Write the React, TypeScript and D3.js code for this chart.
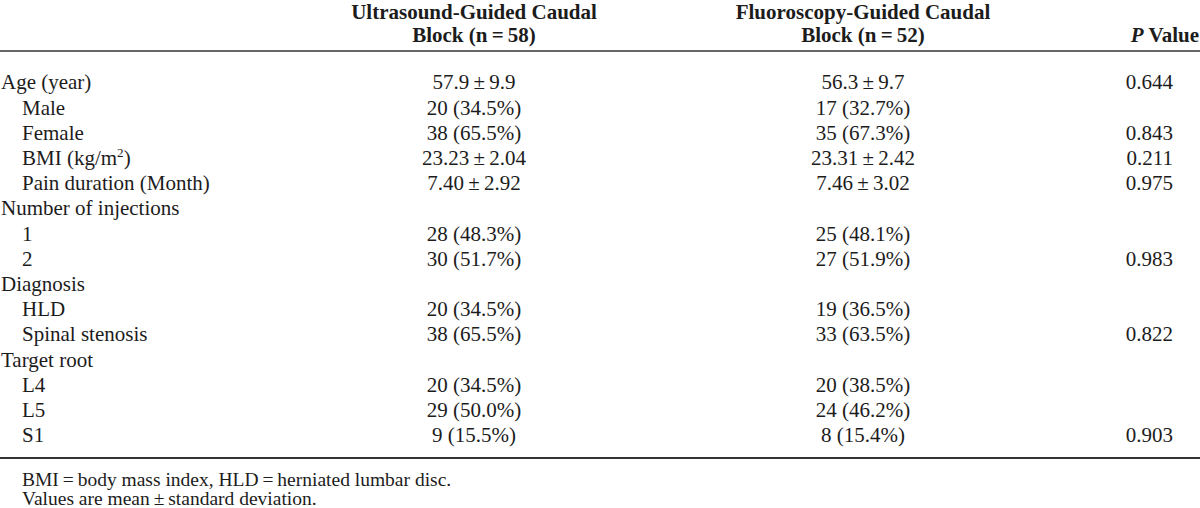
import React from 'react';
import * as d3 from 'd3';

// Table content
const rowLabels = [
  'Age (year)', 'Male', 'Female', 'BMI', 'Pain duration (Month)',
  'Number of injections', '1', '2', 'Diagnosis', 'HLD', 'Spinal stenosis',
  'Target root', 'L4', 'L5', 'S1',
];
const rowIndent = [0, 1, 1, 1, 1, 0, 1, 1, 0, 1, 1, 0, 1, 1, 1];
const usValues = [
  '57.9\u2009±\u20099.9', '20 (34.5%)', '38 (65.5%)', '23.23\u2009±\u20092.04', '7.40\u2009±\u20092.92',
  '', '28 (48.3%)', '30 (51.7%)', '', '20 (34.5%)', '38 (65.5%)',
  '', '20 (34.5%)', '29 (50.0%)', '9 (15.5%)',
];
const flValues = [
  '56.3\u2009±\u20099.7', '17 (32.7%)', '35 (67.3%)', '23.31\u2009±\u20092.42', '7.46\u2009±\u20093.02',
  '', '25 (48.1%)', '27 (51.9%)', '', '19 (36.5%)', '33 (63.5%)',
  '', '20 (38.5%)', '24 (46.2%)', '8 (15.4%)',
];
const pValues = [
  '0.644', '', '0.843', '0.211', '0.975',
  '', '', '0.983', '', '', '0.822',
  '', '', '', '0.903',
];
const headerUS = ['Ultrasound-Guided Caudal', 'Block (n\u2009=\u200958)'];
const headerFL = ['Fluoroscopy-Guided Caudal', 'Block (n\u2009=\u200952)'];
const footnotes = [
  'BMI\u2009=\u2009body mass index, HLD\u2009=\u2009herniated lumbar disc.',
  'Values are mean\u2009±\u2009standard deviation.',
];

const width = 1200;
const height = 508;
const font = '"Liberation Serif", "Times New Roman", serif';
const ink = '#1c1c1c';
const fontSize = 21;

const App: React.FC = () => {
  // row index -> vertical centre of the text
  const y = d3.scaleLinear().domain([0, rowLabels.length - 1]).range([82, 435]);
  const headerY = d3.scaleLinear().domain([0, 1]).range([12, 35]);
  const footY = d3.scaleLinear().domain([0, 1]).range([479, 498]);

  const colUS = 474;
  const colFL = 863;
  const colP = 1173;
  const baseShift = fontSize * 0.35;

  return (
    <svg
      width={width}
      height={height}
      style={{ position: 'absolute', left: 0, top: 0, background: '#fff' }}
      fontFamily={font}
      fill={ink}
    >
      {/* header */}
      <g fontWeight="bold" fontSize={fontSize} textAnchor="middle">
        {headerUS.map((t, i) => (
          <text key={'us' + i} x={colUS} y={headerY(i) + baseShift}>{t}</text>
        ))}
        {headerFL.map((t, i) => (
          <text key={'fl' + i} x={colFL} y={headerY(i) + baseShift}>{t}</text>
        ))}
        <text x={1199} y={headerY(1) + baseShift} textAnchor="end">
          <tspan fontStyle="italic">P</tspan> Value
        </text>
      </g>

      <line x1={0} x2={width} y1={51} y2={51} stroke="#333" strokeWidth={1.6} />

      {/* body rows */}
      <g fontSize={fontSize}>
        {rowLabels.map((label, i) => (
          <g key={i} transform={`translate(0,${y(i) + baseShift})`}>
            <text x={rowIndent[i] ? 22 : 1}>
              {label}
              {label === 'BMI' && (
                <>
                  {' (kg/m'}
                  <tspan fontSize={fontSize * 0.62} dy={-8}>2</tspan>
                  <tspan dy={8}>)</tspan>
                </>
              )}
            </text>
            <text x={colUS} textAnchor="middle">{usValues[i]}</text>
            <text x={colFL} textAnchor="middle">{flValues[i]}</text>
            <text x={colP} textAnchor="end">{pValues[i]}</text>
          </g>
        ))}
      </g>

      <line x1={0} x2={width} y1={458} y2={458} stroke="#333" strokeWidth={2} />

      {/* footnotes */}
      <g fontSize={19.5}>
        {footnotes.map((t, i) => (
          <text key={i} x={22} y={footY(i) + 19.5 * 0.35}>{t}</text>
        ))}
      </g>
    </svg>
  );
};

export default App;
